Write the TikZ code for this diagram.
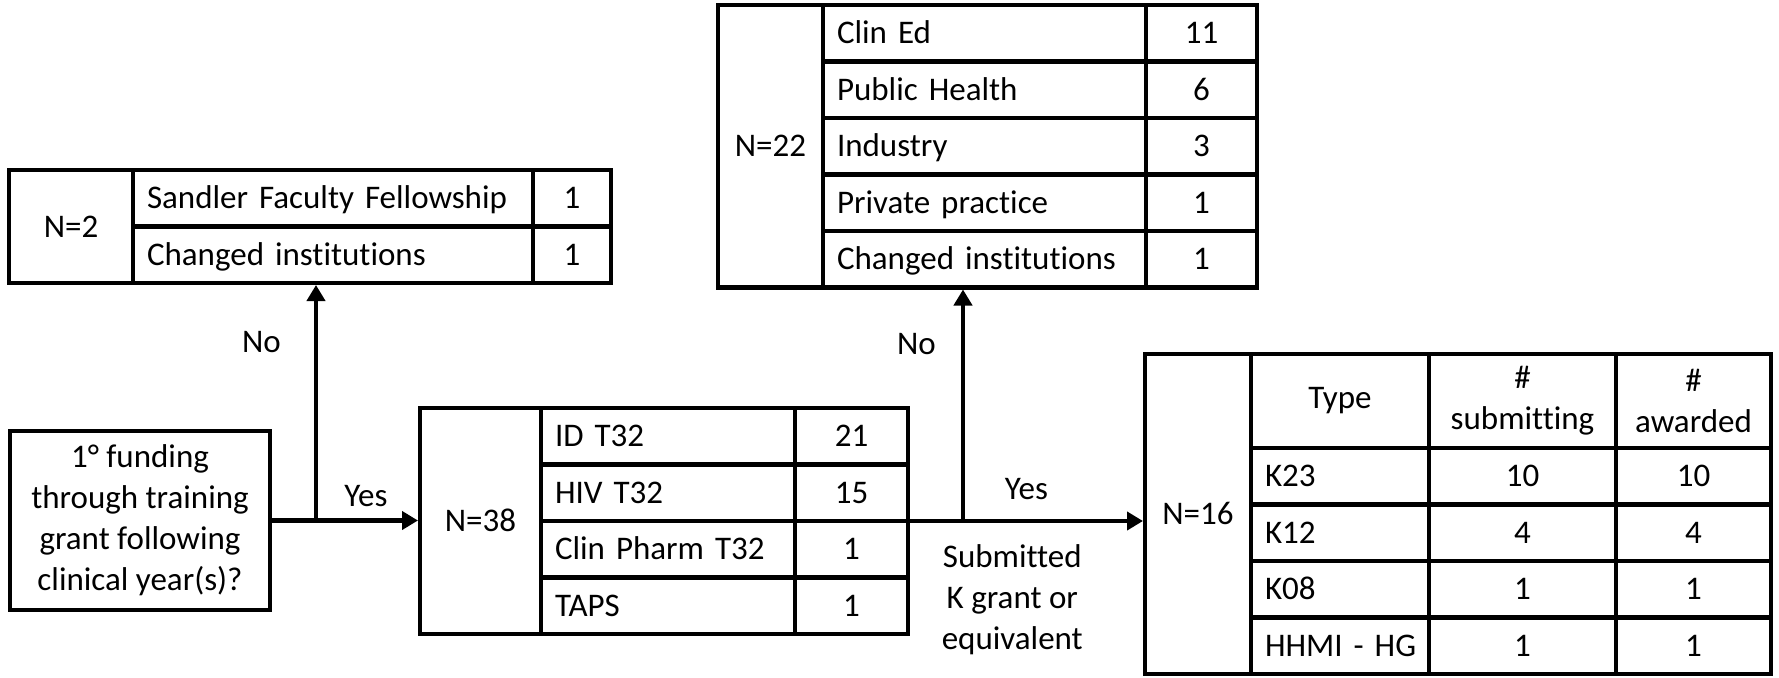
\documentclass[tikz,border=0pt]{standalone}
\usepackage{fontspec}
\setmainfont{Carlito}[Ligatures=NoCommon]
\usetikzlibrary{arrows.meta,positioning}
\begin{document}
\begin{tikzpicture}[x=1pt,y=-1pt,font=\fontsize{33}{41}\selectfont,>={Triangle[length=16pt,width=18pt]},line width=4.5pt,
  nc/.style={draw,outer sep=0pt,inner sep=0pt,minimum width=#1,text height=21pt,text depth=0pt,anchor=north west},
  tc/.style={draw,outer sep=0pt,inner sep=0pt,inner xsep=14pt,text width=#1,align=left,minimum height=56.5pt,text height=21pt,text depth=0pt},
  vc/.style={draw,outer sep=0pt,inner sep=0pt,minimum width=#1,minimum height=56.5pt,text height=21pt,text depth=0pt},
  hc/.style={draw,outer sep=0pt,inner sep=0pt,minimum width=#1,minimum height=94pt,align=center},
  lb/.style={inner sep=0pt}]
\useasboundingbox (0,0) rectangle (1779,677);
% question
\node[draw,outer sep=0pt,minimum width=260pt,minimum height=179pt,align=center,anchor=north west] (q) at (10,431) {1° funding\\through training\\grant following\\clinical year(s)?};
% N=2
\node[nc=124pt,minimum height=113pt] (n2) at (9,170) {N=2};
\node[tc=372pt,anchor=north west] (n2a) at (n2.north east) {Sandler Faculty Fellowship};
\node[tc=372pt,below=0pt of n2a] (n2b) {Changed institutions};
\node[vc=78pt,right=0pt of n2a] (n2c) {1};
\node[vc=78pt,right=0pt of n2b] (n2d) {1};
% N=38
\node[nc=121pt,minimum height=226pt] (n38) at (420,408) {N=38};
\node[tc=226pt,anchor=north west] (n38a) at (n38.north east) {ID T32};
\node[tc=226pt,below=0pt of n38a] (n38b) {HIV T32};
\node[tc=226pt,below=0pt of n38b] (n38c) {Clin Pharm T32};
\node[tc=226pt,below=0pt of n38c] (n38d) {TAPS};
\node[vc=113pt,right=0pt of n38a] (n38e) {21};
\node[vc=113pt,right=0pt of n38b] (n38f) {15};
\node[vc=113pt,right=0pt of n38c] (n38g) {1};
\node[vc=113pt,right=0pt of n38d] (n38h) {1};
% N=22
\node[nc=105pt,minimum height=282.5pt] (n22) at (718,5) {N=22};
\node[tc=295pt,anchor=north west] (n22a) at (n22.north east) {Clin Ed};
\node[tc=295pt,below=0pt of n22a] (n22b) {Public Health};
\node[tc=295pt,below=0pt of n22b] (n22c) {Industry};
\node[tc=295pt,below=0pt of n22c] (n22d) {Private practice};
\node[tc=295pt,below=0pt of n22d] (n22e) {Changed institutions};
\node[vc=111pt,right=0pt of n22a] (n22f) {11};
\node[vc=111pt,right=0pt of n22b] (n22g) {6};
\node[vc=111pt,right=0pt of n22c] (n22h) {3};
\node[vc=111pt,right=0pt of n22d] (n22i) {1};
\node[vc=111pt,right=0pt of n22e] (n22j) {1};
% N=16
\node[nc=106pt,minimum height=320pt] (n16) at (1145,354) {N=16};
\node[hc=178pt,anchor=north west] (ty) at (n16.north east) {Type};
\node[hc=187pt,right=0pt of ty] (sub) {\#\\submitting};
\node[hc=155pt,right=0pt of sub] (awd) {\#\\awarded};
\node[tc=150pt,below=0pt of ty] (k23) {K23};
\node[tc=150pt,below=0pt of k23] (k12) {K12};
\node[tc=150pt,below=0pt of k12] (k08) {K08};
\node[tc=150pt,below=0pt of k08] (hg) {\mbox{HHMI - HG}};
\node[vc=187pt,right=0pt of k23] (k23s) {10};
\node[vc=155pt,right=0pt of k23s] (k23a) {10};
\node[vc=187pt,right=0pt of k12] (k12s) {4};
\node[vc=155pt,right=0pt of k12s] (k12a) {4};
\node[vc=187pt,right=0pt of k08] (k08s) {1};
\node[vc=155pt,right=0pt of k08s] (k08a) {1};
\node[vc=187pt,right=0pt of hg] (hgs) {1};
\node[vc=155pt,right=0pt of hgs] (hga) {1};
% arrows
\draw[->,shorten >=2pt] (q.east) -- (q.east -| n38.west) node[lb,pos=0.64,above=12pt]{Yes};
\path (q.east) ++(46,0) coordinate (j1);
\draw[->,shorten >=2pt] (j1) -- (j1 |- n2.south) node[lb,pos=0.75,left=33pt]{No};
\coordinate (r38) at (n38e.east |- n38.east);
\draw[->,shorten >=2pt] (r38) -- (r38 -| n16.west) node[lb,midway,above=19.5pt]{Yes}
  node[lb,pos=0.44,below=21pt,align=center]{Submitted\\K grant or\\equivalent};
\path (r38) ++(55,0) coordinate (j2);
\draw[->,shorten >=2pt] (j2) -- (j2 |- n22.south) node[lb,pos=0.756,left=25pt]{No};
\end{tikzpicture}
\end{document}
